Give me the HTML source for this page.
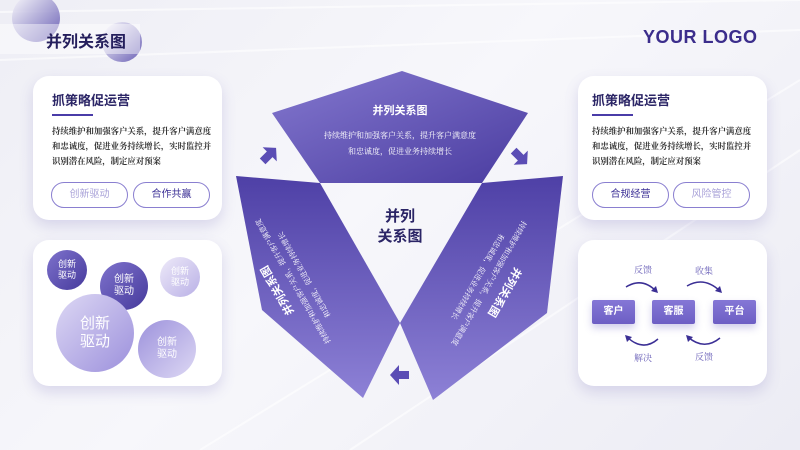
<!DOCTYPE html>
<html><head><meta charset="utf-8"><style>
*{margin:0;padding:0;box-sizing:border-box}
body{width:800px;height:450px;overflow:hidden;position:relative;font-family:"Liberation Sans","Noto Sans CJK SC",sans-serif;background:linear-gradient(135deg,#eeeef5 0%,#f7f7fb 45%,#ececf4 100%)}
.card{position:absolute;background:#fff;border-radius:16px;box-shadow:0 6px 14px rgba(90,80,170,.18)}
.t{position:absolute;font-size:13px;font-weight:bold;color:#2b2566}
.ul{position:absolute;height:2px;width:41px;background:#4a3ca8}
.p{position:absolute;font-family:"Noto Serif CJK SC",serif;font-size:8.4px;line-height:15px;color:#333;width:162px;font-weight:bold}
.btn{position:absolute;height:26px;border:1.5px solid #8a7fd0;border-radius:13px;font-size:10px;text-align:center;line-height:23px}
.c{position:absolute;border-radius:50%;color:#fff;text-align:center;display:flex;align-items:center;justify-content:center;line-height:1.2}
.box{position:absolute;height:24px;background:linear-gradient(#8577d6,#6d5ec4);color:#fff;font-size:10px;font-weight:bold;text-align:center;line-height:24px;border-radius:2px;box-shadow:0 4px 8px rgba(100,90,190,.3)}
.lb{position:absolute;font-family:"Noto Serif CJK SC",serif;font-size:9px;color:#6a60b8}
</style></head><body>
<svg width="800" height="450" style="position:absolute;left:0;top:0">
<defs>
<linearGradient id="g1" x1="0" y1="0" x2="1" y2="1"><stop offset="0" stop-color="#8478cf"/><stop offset="1" stop-color="#4a3ca0"/></linearGradient>
<linearGradient id="g2" x1="0" y1="0" x2="0" y2="1"><stop offset="0" stop-color="#4e40a6"/><stop offset="1" stop-color="#8d81d6"/></linearGradient>
<linearGradient id="dc" x1="0" y1="0" x2="1" y2="1"><stop offset="0" stop-color="#fff"/><stop offset="1" stop-color="#4b3ea6"/></linearGradient>
</defs>
<path d="M0 12 L800 0 M0 60 L800 30 M200 450 L800 80 M350 450 L800 150" stroke="#fff" stroke-width="2" opacity=".6"/>
<circle cx="36" cy="18" r="24" fill="url(#dc)" opacity=".8"/>
<circle cx="122" cy="42" r="20" fill="url(#dc)" opacity=".8"/>
<rect x="0" y="24" width="140" height="30" fill="#fff" opacity=".45"/>
<polygon points="402,71 528,113 482,183 320,183 272,113" fill="url(#g1)"/>
<polygon points="236,176 320,183 400,323 363,398 262,310" fill="url(#g2)"/>
<polygon points="563,176 482,183 400,323 433,400 547,313" fill="url(#g2)"/>
<g fill="#5b4db5">
<g transform="translate(269,155) rotate(-45)"><polygon points="-9,-4 1,-4 1,-10 10,0 1,10 1,4 -9,4"/></g>
<g transform="translate(520,157) rotate(45)"><polygon points="-9,-4 1,-4 1,-10 10,0 1,10 1,4 -9,4"/></g>
<g transform="translate(400,375) rotate(180)"><polygon points="-9,-4 1,-4 1,-10 10,0 1,10 1,4 -9,4"/></g>
</g>
</svg>
<div style="position:absolute;left:46px;top:28px;font-size:16px;font-weight:bold;color:#241e5c">并列关系图</div>
<div style="position:absolute;left:643px;top:27px;font-size:18px;font-weight:bold;color:#3b2d8c;letter-spacing:.5px">YOUR LOGO</div>

<div class="card" style="left:33px;top:76px;width:189px;height:144px"></div>
<div class="t" style="left:52px;top:90px">抓策略促运营</div><div class="ul" style="left:52px;top:114px"></div>
<div class="p" style="left:52px;top:124px">持续维护和加强客户关系，提升客户满意度和忠诚度，促进业务持续增长，实时监控并识别潜在风险，制定应对预案</div>
<div class="btn" style="left:51px;top:182px;width:77px;color:#a9a2d8">创新驱动</div>
<div class="btn" style="left:133px;top:182px;width:77px;color:#3b2f95">合作共赢</div>

<div class="card" style="left:578px;top:76px;width:189px;height:144px"></div>
<div class="t" style="left:592px;top:90px">抓策略促运营</div><div class="ul" style="left:592px;top:114px"></div>
<div class="p" style="left:592px;top:124px">持续维护和加强客户关系，提升客户满意度和忠诚度，促进业务持续增长，实时监控并识别潜在风险，制定应对预案</div>
<div class="btn" style="left:592px;top:182px;width:77px;color:#3b2f95">合规经营</div>
<div class="btn" style="left:673px;top:182px;width:77px;color:#a9a2d8">风险管控</div>

<div class="card" style="left:33px;top:240px;width:189px;height:146px"></div>
<div class="c" style="left:47px;top:250px;width:40px;height:40px;font-size:9px;background:linear-gradient(135deg,#7e72cc,#463a9c)">创新<br>驱动</div>
<div class="c" style="left:100px;top:262px;width:48px;height:48px;font-size:10px;background:linear-gradient(135deg,#7e72cc,#463a9c)">创新<br>驱动</div>
<div class="c" style="left:160px;top:257px;width:40px;height:40px;font-size:9px;background:linear-gradient(135deg,#eeeaf9,#b9b0e6)">创新<br>驱动</div>
<div class="c" style="left:56px;top:294px;width:78px;height:78px;font-size:15px;background:linear-gradient(135deg,#ddd8f4,#9c90dc)">创新<br>驱动</div>
<div class="c" style="left:138px;top:320px;width:58px;height:58px;font-size:10px;background:linear-gradient(135deg,#9d92dc,#ddd8f4)">创新<br>驱动</div>

<div class="card" style="left:578px;top:240px;width:189px;height:146px"></div>
<div class="box" style="left:592px;top:300px;width:43px">客户</div>
<div class="box" style="left:652px;top:300px;width:43px">客服</div>
<div class="box" style="left:713px;top:300px;width:43px">平台</div>
<div class="lb" style="left:634px;top:263px">反馈</div>
<div class="lb" style="left:695px;top:264px">收集</div>
<div class="lb" style="left:634px;top:351px">解决</div>
<div class="lb" style="left:695px;top:350px">反馈</div>
<svg width="800" height="450" style="position:absolute;left:0;top:0">
<g fill="none" stroke="#3b2f95" stroke-width="1.5">
<path d="M626 287 Q642 277 656 291"/><path d="M687 286 Q704 276 720 291"/>
<path d="M658 339 Q643 352 627 337"/><path d="M720 338 Q704 351 688 337"/>
</g>
<g fill="#3b2f95"><polygon points="658,293 651,291 656,286"/><polygon points="722,293 715,291 720,286"/><polygon points="625,335 632,337 627,342"/><polygon points="686,335 693,337 688,342"/></g>
</svg>

<div style="position:absolute;left:300px;top:102px;width:200px;text-align:center;font-size:11px;font-weight:bold;color:#fff">并列关系图</div>
<div style="position:absolute;left:300px;top:128px;width:200px;text-align:center;font-family:'Noto Serif CJK SC',serif;font-size:8px;line-height:16px;color:#fff">持续维护和加强客户关系，提升客户满意度<br>和忠诚度，促进业务持续增长</div>
<div style="position:absolute;left:360px;top:207px;width:80px;text-align:center;font-size:15px;font-weight:bold;color:#2b2566;line-height:20px">并列<br>关系图</div>

<div style="position:absolute;left:210px;top:260px;width:160px;transform:rotate(-120deg);text-align:center;color:#fff">
<div style="font-size:11px;font-weight:bold">并列关系图</div>
<div style="font-family:'Noto Serif CJK SC',serif;font-size:7.5px;line-height:13px;margin-top:4px">持续维护和加强客户关系，提升客户满意度<br>和忠诚度，促进业务持续增长</div></div>
<div style="position:absolute;left:412px;top:262px;width:160px;transform:rotate(120deg);text-align:center;color:#fff">
<div style="font-size:11px;font-weight:bold">并列关系图</div>
<div style="font-family:'Noto Serif CJK SC',serif;font-size:7.5px;line-height:13px;margin-top:4px">持续维护和加强客户关系，提升客户满意度<br>和忠诚度，促进业务持续增长</div></div>
</body></html>
